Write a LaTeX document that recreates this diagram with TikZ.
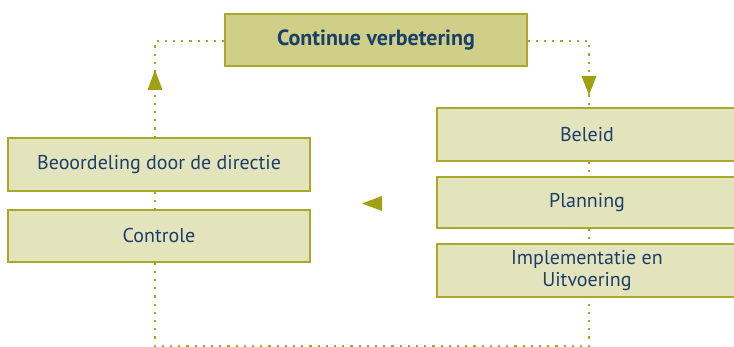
\documentclass[tikz,border=0pt]{standalone}
\usepackage{fontspec}
\setmainfont{PT Sans}
\usetikzlibrary{backgrounds}
\definecolor{boxfill}{HTML}{E3E3BC}
\definecolor{topfill}{HTML}{CFCF88}
\definecolor{boxline}{HTML}{A8A82A}
\definecolor{dotcol}{HTML}{A6A620}
\definecolor{arrcol}{HTML}{A0A010}
\definecolor{txt}{HTML}{1B3F6B}
\tikzset{
  box/.style={draw=boxline, line width=1.2pt, fill=boxfill, text=txt, align=center,
    font=\fontsize{20}{22}\selectfont, inner sep=0pt},
  topbox/.style={box, fill=topfill, font=\fontsize{22}{24}\selectfont\bfseries},
  dotline/.style={draw=dotcol, line width=2.2pt, dash pattern=on 2.2pt off 6pt},
  arrhead/.style={fill=arrcol, draw=none},
}
\begin{document}
\begin{tikzpicture}[x=1pt,y=1pt]
\useasboundingbox (0,0) rectangle (734,-347);
\node[topbox, minimum width=302pt, minimum height=52pt] (top) at (376,-40) {Continue verbetering};
\node[box, minimum width=302pt, minimum height=53pt] (beo) at (159,-164.5) {Beoordeling door de directie};
\node[box, minimum width=302pt, minimum height=52pt] (ctrl) at (159,-236) {Controle};
\node[box, minimum width=300pt, minimum height=53pt] (bel) at (587,-134.5) {Beleid};
\node[box, minimum width=300pt, minimum height=51pt] (plan) at (587,-202.5) {Planning};
\node[box, minimum width=300pt, minimum height=53pt] (impl) at (587,-270.5) {Implementatie en\\Uitvoering};
\coordinate (L) at (155,-41);
\coordinate (R) at (589,-41);
\coordinate (BL) at (155,-346);
\coordinate (BR) at (589,-346);
\begin{scope}[on background layer]
\draw[dotline] (top.west |- L) -- (L) -- (L |- beo.north);
\draw[dotline] (top.east |- R) -- (R) -- (R |- bel.north);
\draw[dotline] (L |- beo.south) -- (L |- ctrl.north);
\draw[dotline] (R |- bel.south) -- (R |- plan.north);
\draw[dotline] (R |- plan.south) -- (R |- impl.north);
\draw[dotline] (L |- ctrl.south) -- (BL) -- (BR) -- (R |- impl.south);
\end{scope}
\fill[arrhead] (155,-70) -- (147.5,-90) -- (162.5,-90) -- cycle;
\fill[arrhead] (589,-95) -- (581.5,-76) -- (596.5,-76) -- cycle;
\fill[arrhead] (362,-203.5) -- (382,-196) -- (382,-211) -- cycle;
\end{tikzpicture}
\end{document}
